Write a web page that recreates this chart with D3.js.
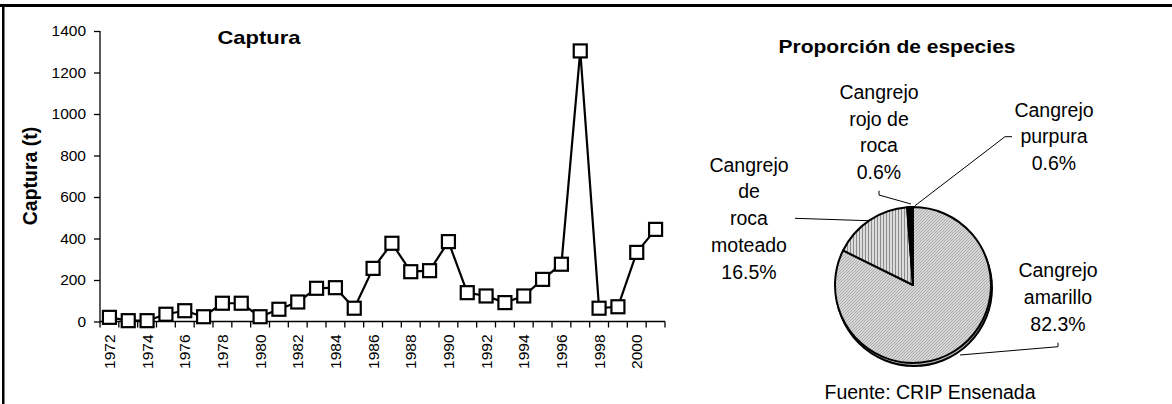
<!DOCTYPE html>
<html><head><meta charset="utf-8">
<script src="https://cdn.jsdelivr.net/npm/d3@7"></script>
<style>
html,body{margin:0;padding:0;background:#fff;}
svg{display:block;font-family:"Liberation Sans",Arial,sans-serif;}
</style></head>
<body><svg id="c" width="1172" height="404"></svg>
<script>
// ---- data ----
const years = [1972,1973,1974,1975,1976,1977,1978,1979,1980,1981,1982,1983,1984,1985,1986,1987,1988,1989,1990,1991,1992,1993,1994,1995,1996,1997,1998,1999,2000,2001];
const captura = [20,4,4,35,52,23,88,88,23,59,94,160,163,64,256,377,240,245,385,139,123,91,123,203,276,1304,64,71,333,444];
const yTicks = [0,200,400,600,800,1000,1200,1400];
const xTickLabels = [1972,1974,1976,1978,1980,1982,1984,1986,1988,1990,1992,1994,1996,1998,2000];
const species = ["Cangrejo amarillo","Cangrejo de roca moteado","Cangrejo rojo de roca","Cangrejo purpura"];
const shares = [82.3,16.5,0.6,0.6];
const speciesLabelLines = [["Cangrejo","amarillo","82.3%"],["Cangrejo","de","roca","moteado","16.5%"],["Cangrejo","rojo de","roca","0.6%"],["Cangrejo","purpura","0.6%"]];

const svg = d3.select("#c");
const defs = svg.append("defs");
// hatch patterns
const p1 = defs.append("pattern").attr("id","pAm").attr("patternUnits","userSpaceOnUse").attr("width",3).attr("height",3);
p1.append("rect").attr("width",3).attr("height",3).attr("fill","#d6d6d6");
p1.append("path").attr("d","M0,3 L3,0 M-1,1 L1,-1 M2,4 L4,2").attr("stroke","#a8a8a8").attr("stroke-width",0.9);
const p2 = defs.append("pattern").attr("id","pMo").attr("patternUnits","userSpaceOnUse").attr("width",3).attr("height",3);
p2.append("rect").attr("width",3).attr("height",3).attr("fill","#dcdcdc");
p2.append("rect").attr("x",0).attr("width",1).attr("height",3).attr("fill","#8c8c8c");
const fills = ["url(#pAm)","url(#pMo)","#000","#000"];

// frame (cropped border top + left)
svg.append("rect").attr("x",0).attr("y",4).attr("width",1172).attr("height",3).attr("fill","#000");
svg.append("rect").attr("x",2).attr("y",4).attr("width",2.5).attr("height",400).attr("fill","#000");

// ---- line chart ----
const x = d3.scaleBand().domain(years).range([100,665]);
const y = d3.scaleLinear().domain([0,1400]).range([321.5,31]);
const g = svg.append("g");

const yAxis = d3.axisLeft(y).tickValues(yTicks).tickSize(6).tickPadding(8).tickFormat(d3.format("d"));
const ya = g.append("g").attr("transform","translate(100,0)").call(yAxis);
ya.select(".domain").attr("stroke","#000").attr("stroke-width",1.3).attr("d","M0,31V321.5");
ya.selectAll(".tick line").attr("stroke","#000").attr("stroke-width",1.3);
ya.selectAll(".tick text").attr("font-size",15.5).attr("fill","#000").attr("font-family","Liberation Sans, Arial");

const xa = g.append("g").attr("transform","translate(0,321.5)");
xa.append("line").attr("x1",100).attr("x2",665).attr("stroke","#000").attr("stroke-width",1.3);
const bounds = years.map(d=>x(d)).concat([x(years[years.length-1])+x.bandwidth()]);
xa.selectAll("line.tk").data(bounds).enter().append("line").attr("class","tk")
  .attr("x1",d=>d).attr("x2",d=>d).attr("y1",0).attr("y2",6).attr("stroke","#000").attr("stroke-width",1.3);
xa.selectAll("text").data(xTickLabels).enter().append("text")
  .attr("transform",d=>`translate(${x(d)+x.bandwidth()/2+5.5},13) rotate(-90)`)
  .attr("text-anchor","end").attr("font-size",15.5).attr("fill","#000").text(d=>d);

const line = d3.line().x((d,i)=>x(years[i])+x.bandwidth()/2).y(d=>y(d));
g.append("path").datum(captura).attr("d",line).attr("fill","none").attr("stroke","#000").attr("stroke-width",2.2).attr("stroke-linejoin","round");
g.selectAll("rect.m").data(captura).enter().append("rect").attr("class","m")
  .attr("x",(d,i)=>x(years[i])+x.bandwidth()/2-6.5).attr("y",d=>y(d)-6.5)
  .attr("width",13).attr("height",13).attr("fill","#fff").attr("stroke","#000").attr("stroke-width",2.2);

g.append("text").attr("x",259).attr("y",44).attr("text-anchor","middle").attr("font-weight","bold").attr("font-size",19).attr("textLength",83).attr("lengthAdjust","spacingAndGlyphs").text("Captura");
g.append("text").attr("transform","translate(37,176) rotate(-90)").attr("text-anchor","middle").attr("font-weight","bold").attr("font-size",19.5).text("Captura (t)");

// ---- pie ----
const cx = 913, cy = 285, r = 78;
const pie = d3.pie().sort(null).value(d=>d)(shares);
const arc = d3.arc().innerRadius(0).outerRadius(r);
const pg = svg.append("g").attr("transform",`translate(${cx},${cy})`);
pg.append("circle").attr("cx",1).attr("cy",3).attr("r",r).attr("fill","#bbb").attr("stroke","#000").attr("stroke-width",2);
pg.selectAll("path").data(pie).enter().append("path").attr("d",arc)
  .attr("fill",(d,i)=>fills[i]).attr("stroke","#000").attr("stroke-width",2).attr("stroke-linejoin","round");

svg.append("text").attr("x",897).attr("y",53).attr("text-anchor","middle").attr("font-weight","bold").attr("font-size",18).attr("textLength",237).attr("lengthAdjust","spacingAndGlyphs").text("Proporción de especies");

// labels
const labelPos = [[1058,277.3],[749,171.7],[879,99],[1054,116.7]];
const lh = 26.7;
speciesLabelLines.forEach((lines,i)=>{
  const t = svg.append("text").attr("text-anchor","middle").attr("font-size",19.5).attr("fill","#000");
  lines.forEach((s,j)=>t.append("tspan").attr("x",labelPos[i][0]).attr("y",labelPos[i][1]+j*lh).text(s));
});
// leader lines
const leaders = [
  [[1058,342.7],[1058,346.7],[960,355]],
  [[795,218.3],[868,220.7]],
  [[879,190.7],[879,195],[911,204]],
  [[1012,136.7],[1005,136.7],[915,205.7]]
];
svg.selectAll("path.ld").data(leaders).enter().append("path").attr("class","ld")
  .attr("d",d=>d3.line()(d)).attr("fill","none").attr("stroke","#000").attr("stroke-width",1);

svg.append("text").attr("x",930).attr("y",399).attr("text-anchor","middle").attr("font-size",19.5).text("Fuente: CRIP Ensenada");
</script></body></html>
